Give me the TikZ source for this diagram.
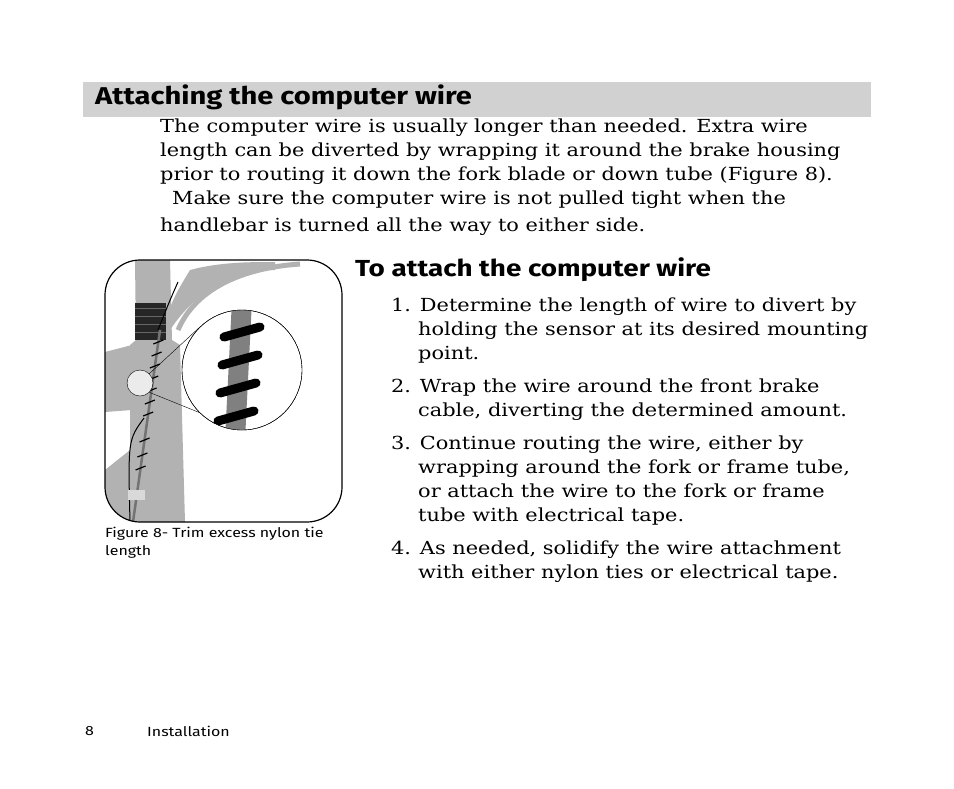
\documentclass[tikz,border=0pt]{standalone}
\usepackage{fontspec}
\setmainfont{DejaVu Serif}[FakeStretch=1.16]
\newfontfamily\hfont{Fira Sans}[FakeStretch=1.2]
\begin{document}
\begin{tikzpicture}[x=1pt,y=-1pt,
  body/.style={anchor=north west,inner sep=0pt,font=\fontsize{18}{24}\selectfont,align=left},
  head/.style={anchor=west,inner sep=0pt,font=\hfont\bfseries\fontsize{24.3}{26}\selectfont},
  small/.style={anchor=north west,inner sep=0pt,font=\hfont\fontsize{13.3}{18}\selectfont,align=left}]
\useasboundingbox (0,0) rectangle (954,788);
\fill[white] (0,0) rectangle (954,788);
% header bar
\fill[black!18] (83,82) rectangle (871,117);
\node[head] (h1) at (95,97) {Attaching the computer wire};
\node[body] (p1) at (160,119) {The computer wire is usually longer than needed. Extra wire\\length can be diverted by wrapping it around the brake housing\\prior to routing it down the fork blade or down tube (Figure 8).};
\node[body] (p2) at (172,191) {Make sure the computer wire is not pulled tight when the};
\node[body] (p3) at (160,218) {handlebar is turned all the way to either side.};
\node[head,font=\hfont\bfseries\fontsize{23.2}{26}\selectfont] (h2) at (355,270) {To attach the computer wire};
\node[body] (s1) at (391,298) {1. Determine the length of wire to divert by\\\hspace*{27pt}holding the sensor at its desired mounting\\\hspace*{27pt}point.};
\node[body] (s2) at (391,379) {2. Wrap the wire around the front brake\\\hspace*{27pt}cable, diverting the determined amount.};
\node[body] (s3) at (391,436) {3. Continue routing the wire, either by\\\hspace*{27pt}wrapping around the fork or frame tube,\\\hspace*{27pt}or attach the wire to the fork or frame\\\hspace*{27pt}tube with electrical tape.};
\node[body] (s4) at (391,541) {4. As needed, solidify the wire attachment\\\hspace*{27pt}with either nylon ties or electrical tape.};
\node[small] (cap) at (105,527) {Figure 8- Trim excess nylon tie\\length};
\node[small,anchor=west] (pg) at (85,731) {8};
\node[small,anchor=west] (inst) at (147,731) {Installation};
% figure
\begin{scope}
\clip[rounded corners=35] (105,260) rectangle (342,522);
\fill[black!30] (105,352) -- (132,345) -- (132,410) -- (105,412) -- cycle;
\fill[black!30] (105,470) -- (130,450) -- (130,522) -- (105,522) -- cycle;
\fill[black!30] (135,260) -- (170,260) -- (172,340) -- (180,345) -- (185,522) -- (130,522) -- (130,345) -- (136,340) -- cycle;
\fill[black!30] (190,270) .. controls (220,262) and (250,262) .. (275,262) -- (275,270) .. controls (240,270) and (200,285) .. (170,330) -- (165,320) .. controls (175,295) .. (190,270);
\draw[black!30,line width=5pt] (178,330) .. controls (195,290) and (240,268) .. (300,264);
\fill[black!85] (135,303) rectangle (166,340);
\foreach \yy in {308,316,324,332}{\draw[black!60,line width=0.6pt] (135,\yy) -- (166,\yy);}
\draw[black!55,line width=2.5pt] (160,330) -- (133,522);
\foreach \yy in {342,354,366,378,390,402,414,440,455,468}{\draw[black,line width=1.2pt] ({160-(\yy-330)*0.1406-5},\yy+2) -- ++(10,-4);}
\draw[black,line width=1pt] (144,418) .. controls (128,440) .. (130,522);
\draw[black,line width=1pt] (158,330) .. controls (170,300) .. (178,282);
\fill[black!15] (128,490) rectangle (145,500);
\end{scope}
\draw[line width=1.2pt,rounded corners=35] (105,260) rectangle (342,522);
\node[circle,draw,fill=black!8,minimum size=26pt,inner sep=0pt] (sc) at (140,383) {};
\node[circle,draw,fill=white,minimum size=120pt,inner sep=0pt] (bc) at (242,370) {};
\draw (sc.north east) -- (bc.north west);
\draw (sc.south east) -- (bc.south west);
\begin{scope}
\clip (bc.center) circle (60pt);
\fill[black!50] (232,300) -- (252,300) -- (245,440) -- (225,440) -- cycle;
\foreach \yy/\xx in {332/242,360/240,388/238,416/236}{\draw[black,line width=9pt,line cap=round] (\xx-18,\yy+5) -- (\xx+18,\yy-5);}
\end{scope}
\draw (bc.center) circle (60pt);
\end{tikzpicture}
\end{document}
